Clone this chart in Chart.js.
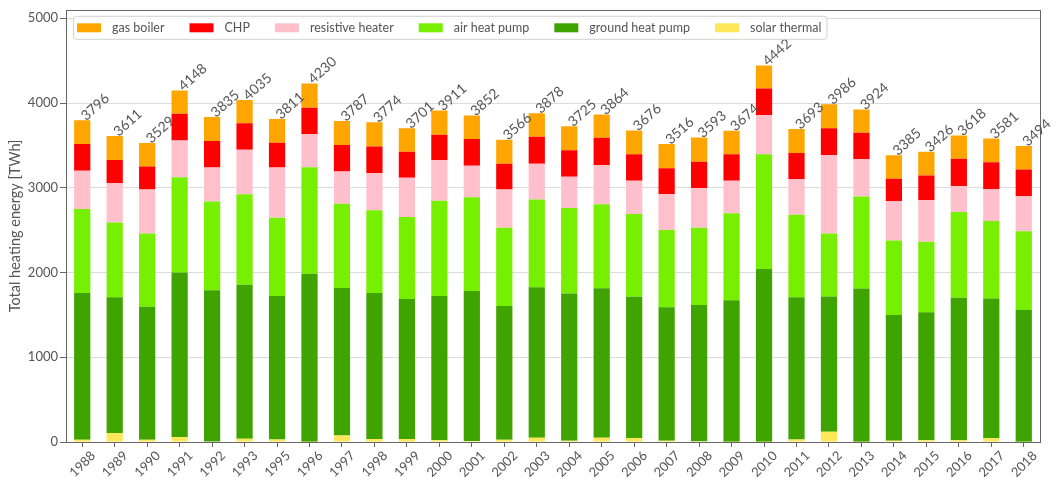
<!DOCTYPE html>
<html>
<head>
<meta charset="utf-8">
<script src="https://cdn.jsdelivr.net/npm/chart.js@4.4.1/dist/chart.umd.min.js"></script>
<style>
  body { margin: 0; background: #fff; }
</style>
</head>
<body>
<canvas id="heatingChart" width="1058" height="480"></canvas>
<script>
// years (1994 is missing in the source data)
const years = ["1988","1989","1990","1991","1992","1993","1995","1996","1997","1998","1999","2000",
  "2001","2002","2003","2004","2005","2006","2007","2008","2009","2010","2011","2012","2013",
  "2014","2015","2016","2017","2018"];

// TWh, stacked bottom to top
const solarThermal    = [27, 105, 27, 58, 5, 39, 30, 3, 77, 35, 35, 20, 12, 27, 50, 15, 50, 47, 15, 10, 3, 3, 30, 120, 3, 15, 20, 20, 43, 3];
const groundHeatPump  = [1732, 1604, 1569, 1943, 1786, 1818, 1694, 1983, 1741, 1724, 1651, 1704, 1771, 1577, 1776, 1737, 1764, 1666, 1574, 1606, 1671, 2037, 1679, 1597, 1808, 1484, 1510, 1681, 1651, 1554];
const airHeatPump     = [989, 880, 864, 1122, 1048, 1067, 923, 1257, 993, 975, 969, 1122, 1106, 923, 1036, 1008, 990, 977, 914, 911, 1024, 1355, 973, 743, 1086, 879, 833, 1013, 915, 931];
const resistiveHeater = [452, 463, 519, 435, 400, 526, 592, 390, 382, 439, 464, 483, 370, 452, 421, 371, 462, 394, 424, 471, 386, 460, 417, 928, 439, 464, 494, 307, 377, 412];
const chp             = [316, 277, 272, 316, 312, 312, 292, 311, 312, 315, 307, 296, 316, 304, 318, 311, 324, 311, 304, 308, 311, 315, 312, 315, 312, 265, 289, 320, 316, 316];
const gasBoiler       = [280, 282, 278, 274, 284, 273, 280, 286, 282, 286, 275, 286, 277, 283, 277, 283, 274, 281, 285, 287, 279, 272, 282, 283, 276, 278, 280, 277, 279, 278];

// totals printed above each bar
const totals = [3796, 3611, 3529, 4148, 3835, 4035, 3811, 4230, 3787, 3774, 3701, 3911, 3852, 3566,
  3878, 3725, 3864, 3676, 3516, 3593, 3674, 4442, 3693, 3986, 3924, 3385, 3426, 3618, 3581, 3494];

const yTicks = [0, 1000, 2000, 3000, 4000, 5000];

const FONT = "Lato, 'DejaVu Sans', sans-serif";

window.onload = init;

function init(){
    const ctx = document.getElementById('heatingChart');
    new Chart(ctx, {
        type: 'bar',
        data: {
            labels: years,
            datasets: [
                { label: 'solar thermal', data: solarThermal, backgroundColor: '#ffe75a' },
                { label: 'ground heat pump', data: groundHeatPump, backgroundColor: '#40a400' },
                { label: 'air heat pump', data: airHeatPump, backgroundColor: '#77ef00' },
                { label: 'resistive heater', data: resistiveHeater, backgroundColor: '#ffc0cb' },
                { label: 'CHP', data: chp, backgroundColor: '#ff0000' },
                { label: 'gas boiler', data: gasBoiler, backgroundColor: '#ffa500' }
            ]
        },
        options: {
            responsive: false,
            animation: false,
            datasets: { bar: { categoryPercentage: 1.0, barPercentage: 0.5, borderWidth: 0 } },
            layout: { padding: { top: 3, right: 18, left: 0, bottom: 0 } },
            plugins: {
                legend: { display: false },
                tooltip: { enabled: false }
            },
            scales: {
                x: {
                    stacked: true,
                    offset: true,
                    border: { display: false },
                    grid: { display: true, offset: false, drawOnChartArea: false, drawTicks: true, tickLength: 5, tickColor: '#666' },
                    ticks: { maxRotation: 45, minRotation: 45, labelOffset: 11, padding: 1, color: '#555', font: { family: FONT, size: 13 } },
                    afterFit: s => { s.height = 38; }
                },
                y: {
                    stacked: true,
                    min: 0,
                    max: 5100,
                    border: { display: false },
                    grid: { color: '#dcdcdc', tickColor: '#666', tickLength: 6 },
                    afterBuildTicks: s => { s.ticks = yTicks.map(v => ({ value: v })); },
                    ticks: { padding: 2, color: '#555', font: { family: FONT, size: 13 }, callback: v => String(v) },
                    title: { display: true, text: 'Total heating energy [TWh]', color: '#555', font: { family: FONT, size: 14.5 }, padding: { top: 7, bottom: 0 } },
                    afterFit: s => { s.width = 66; }
                }
            }
        },
        plugins: [framePlugin, totalsPlugin, legendBoxPlugin]
    });
}

// dark frame around the plot area
const framePlugin = {
    id: 'frame',
    afterDatasetsDraw(chart){
        const a = chart.chartArea, c = chart.ctx;
        c.save();
        c.strokeStyle = '#666';
        c.lineWidth = 1;
        c.strokeRect(Math.round(a.left) + 0.5, Math.round(a.top) + 0.5, Math.round(a.right - a.left), Math.round(a.bottom - a.top));
        c.restore();
    }
};

// rotated totals above each stack
const totalsPlugin = {
    id: 'totals',
    afterDatasetsDraw(chart){
        const c = chart.ctx;
        const top = chart.getDatasetMeta(chart.data.datasets.length - 1);
        c.save();
        c.fillStyle = '#555';
        c.font = "14px " + FONT;
        c.textAlign = 'left';
        c.textBaseline = 'alphabetic';
        top.data.forEach((bar, i) => {
            c.save();
            c.translate(bar.x + 4, bar.y + 1);
            c.rotate(-42 * Math.PI / 180);
            c.fillText(String(totals[i]), 0, 0);
            c.restore();
        });
        c.restore();
    }
};

// legend inside the plot, top left, reversed order
const legendBoxPlugin = {
    id: 'legendBox',
    afterDraw(chart){
        const c = chart.ctx, a = chart.chartArea;
        const items = chart.data.datasets.slice().reverse();
        c.save();
        c.font = "12.5px " + FONT;
        const x0 = a.left + 7, y0 = a.top + 6, h = 23;
        let x = x0 + 4;
        const pos = items.map(d => {
            const p = x;
            x += 35 + c.measureText(d.label).width + 25;
            return p;
        });
        const w = x - 25 + 5 - x0;
        c.beginPath();
        c.roundRect(x0 + 0.5, y0 + 0.5, w, h, 3);
        c.fillStyle = 'rgba(255,255,255,0.85)';
        c.fill();
        c.strokeStyle = '#d0d0d0';
        c.lineWidth = 1;
        c.stroke();
        const cy = y0 + h / 2 + 0.5;
        items.forEach((d, i) => {
            c.fillStyle = d.backgroundColor;
            c.fillRect(pos[i], cy - 4.5, 24, 9);
            c.fillStyle = '#555';
            c.textBaseline = 'middle';
            c.fillText(d.label, pos[i] + 35, cy);
        });
        c.restore();
    }
};
</script>
</body>
</html>
